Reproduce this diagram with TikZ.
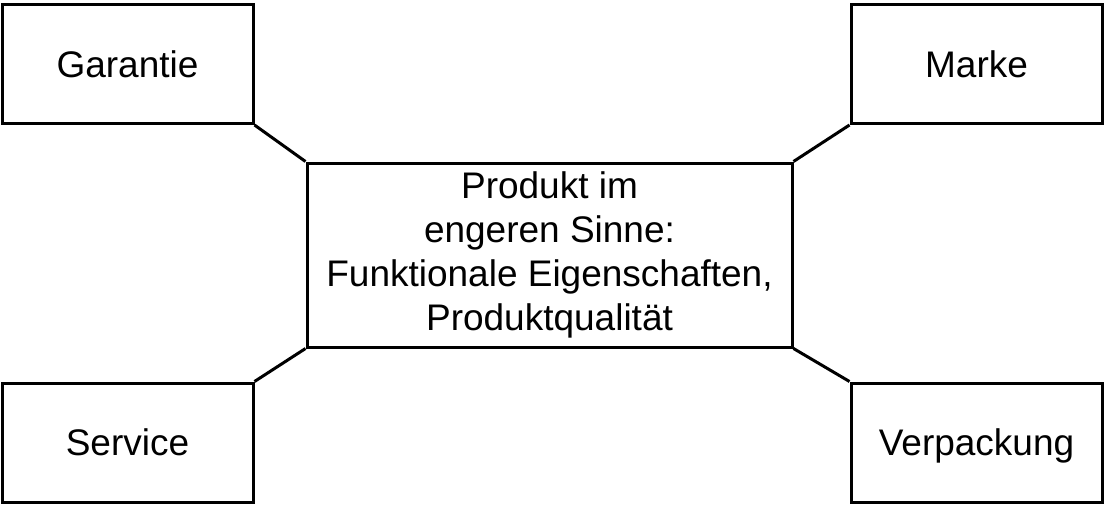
\documentclass[tikz,border=0pt]{standalone}
\usepackage{fontspec}
\setmainfont{Liberation Sans}
\usepackage{tikz}

\begin{document}
\begin{tikzpicture}[x=1pt,y=-1pt,line width=3pt,
  box/.style={draw, rectangle, inner sep=0pt, align=center,
    minimum width=251pt, minimum height=119pt,
    font=\fontsize{37}{44}\selectfont},
  item/.style={box, text height=26.5pt, text depth=0pt}]
  \useasboundingbox (0,0) rectangle (1104,504);
  \node [item] (gar) at (127.5,64) {Garantie};
  \node [item] (mar) at (976.5,64) {Marke};
  \node [item] (ser) at (127.5,442.5) {Service};
  \node [item] (ver) at (976.5,442.5) {Verpackung};
  \node [box, minimum width=485pt, minimum height=184pt] (prod) at (549.5,255)
    {Produkt im\\engeren Sinne:\\Funktionale Eigenschaften,\\Produktqualit\"at};
  \draw (gar.south east) -- (prod.north west);
  \draw (mar.south west) -- (prod.north east);
  \draw (ser.north east) -- (prod.south west);
  \draw (ver.north west) -- (prod.south east);
\end{tikzpicture}
\end{document}
